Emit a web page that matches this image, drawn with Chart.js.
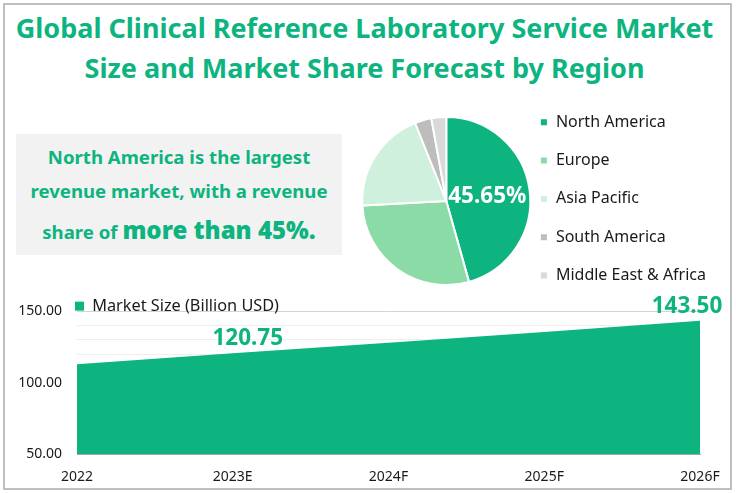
<!DOCTYPE html>
<html>
<head>
<meta charset="utf-8">
<title>Clinical Reference Laboratory Service Market</title>
<script src="https://cdn.jsdelivr.net/npm/chart.js@4/dist/chart.umd.min.js"></script>
<style>
    html, body { margin: 0; padding: 0; background: #fff; overflow: hidden; }
    body { width: 736px; height: 493px; position: relative; font-family: "Noto Sans", sans-serif; }
    #frame { position: absolute; left: 3px; top: 3px; width: 725px; height: 483px; border: 2px solid #bfbfbf; }
    #title { position: absolute; left: 0; top: 8px; width: 729px; text-align: center; color: #0db47f; font-weight: 700; font-size: 27px; line-height: 40px; white-space: nowrap; }
    #callout { position: absolute; left: 16px; top: 134px; width: 326px; height: 121px; background: #f2f2f2; color: #0db47f; font-weight: 700; font-size: 18.6px; text-align: center; }
    #callout div { position: absolute; left: 0; width: 100%; line-height: 34px; white-space: nowrap; }
    #callout b { font-size: 24px; }
    #pieBox { position: absolute; left: 340px; top: 92px; width: 376px; height: 218px; }
    #areaBox { position: absolute; left: 0; top: 288px; width: 736px; height: 211px; }
</style>
</head>
<body>
<div id="frame"></div>
<div id="title">Global Clinical Reference Laboratory Service Market<br>Size and Market Share Forecast by Region</div>
<div id="callout">
    <div style="top:6px">North America is the largest</div>
    <div style="top:40px">revenue market, with a revenue</div>
    <div style="top:79px">share of <b>more than 45%.</b></div>
</div>
<div id="pieBox"><canvas id="pie"></canvas></div>
<div id="areaBox"><canvas id="area"></canvas></div>

<script>
// dados
const regions = ['North America', 'Europe', 'Asia Pacific', 'South America', 'Middle East & Africa'];
const regionShare = [45.65, 28.5, 19.8, 3.2, 2.85];
const regionColors = ['#0db47f', '#8adba5', '#cff0dd', '#bdbdbd', '#d9d9d9'];

const years = ['2022', '2023E', '2024F', '2025F', '2026F'];
const marketSize = [113, 120.75, 128, 135.5, 143.5];
const axisLabels = [50, 100, 150];

const GREEN = '#0db47f';
const FONT = '"Noto Sans", sans-serif';

// rótulo de porcentagem só na primeira fatia
const pieLabel = {
    id: 'pieLabel',
    afterDatasetsDraw(chart) {
        const arc = chart.getDatasetMeta(0).data[0];
        const ctx = chart.ctx;
        ctx.save();
        ctx.fillStyle = '#fff';
        ctx.font = '700 22.5px ' + FONT;
        ctx.textAlign = 'center';
        ctx.textBaseline = 'middle';
        ctx.fillText(regionShare[0].toFixed(2) + '%', arc.x + 41, arc.y - 4);
        ctx.restore();
    }
};

new Chart(document.getElementById('pie'), {
    type: 'pie',
    data: {
        labels: regions,
        datasets: [{
            data: regionShare,
            backgroundColor: regionColors,
            borderColor: '#fff',
            borderWidth: 2,
            radius: 84,
            clip: false
        }]
    },
    options: {
        responsive: true,
        maintainAspectRatio: false,
        animation: false,
        layout: { padding: { left: 35 } },
        plugins: {
            tooltip: { enabled: false },
            legend: {
                position: 'right',
                align: 'start',
                maxWidth: 240,
                labels: {
                    color: '#1a1a1a',
                    font: { family: FONT, size: 16 },
                    boxWidth: 8,
                    boxHeight: 8,
                    padding: 22.3
                }
            }
        }
    },
    plugins: [pieLabel]
});

// rótulos de valor em 2023E e 2026F
const areaLabels = {
    id: 'areaLabels',
    afterDatasetsDraw(chart) {
        const points = chart.getDatasetMeta(0).data;
        const ctx = chart.ctx;
        ctx.save();
        ctx.fillStyle = GREEN;
        ctx.font = '700 22.5px ' + FONT;
        ctx.textAlign = 'center';
        ctx.textBaseline = 'middle';
        ctx.fillText(marketSize[1].toFixed(2), points[1].x + 15, points[1].y - 15);
        ctx.fillText(marketSize[4].toFixed(2), points[4].x - 13, points[4].y - 14);
        ctx.restore();
    }
};

// legenda sobre o gráfico: não reserva altura e é reposicionada depois do layout
const legendOverlap = {
    id: 'legendOverlap',
    beforeInit(chart) {
        const fit = chart.legend.fit;
        chart.legend.fit = function () {
            fit.call(chart.legend);
            this.height = 0;
        };
    },
    afterLayout(chart) {
        const legend = chart.legend;
        legend.left = 75;
        legend.top = 10;
        legend.height = 20;
        legend.bottom = 30;
    }
};

new Chart(document.getElementById('area'), {
    type: 'line',
    data: {
        labels: years,
        datasets: [{
            label: 'Market Size (Billion USD)',
            data: marketSize,
            backgroundColor: GREEN,
            borderColor: GREEN,
            borderWidth: 0,
            pointRadius: 0,
            tension: 0,
            fill: 'start'
        }]
    },
    options: {
        responsive: true,
        maintainAspectRatio: false,
        animation: false,
        layout: { padding: { left: 0, right: 36, top: 17, bottom: 0 } },
        plugins: {
            tooltip: { enabled: false },
            legend: {
                position: 'top',
                align: 'start',
                fullSize: false,
                labels: {
                    color: '#1a1a1a',
                    font: { family: FONT, size: 16.3 },
                    boxWidth: 9,
                    boxHeight: 9,
                    padding: 0
                }
            }
        },
        scales: {
            x: {
                offset: false,
                grid: { display: false, drawTicks: false },
                border: { color: '#a6a6a6' },
                ticks: {
                    color: '#1a1a1a',
                    font: { family: FONT, size: 14 },
                    padding: 14,
                    maxRotation: 0,
                    autoSkip: false
                }
            },
            y: {
                min: 50,
                max: 150,
                afterFit(scale) { scale.width = 77; },
                border: { display: false },
                grid: {
                    drawTicks: false,
                    color: ctx => ctx.tick.value === 150 ? '#d4d4d4' : '#efefef'
                },
                ticks: {
                    stepSize: 10,
                    autoSkip: false,
                    padding: 15,
                    color: '#1a1a1a',
                    font: { family: FONT, size: 14 },
                    callback: v => axisLabels.includes(v) ? v.toFixed(2) : ''
                }
            }
        }
    },
    plugins: [areaLabels, legendOverlap]
});
</script>
</body>
</html>
